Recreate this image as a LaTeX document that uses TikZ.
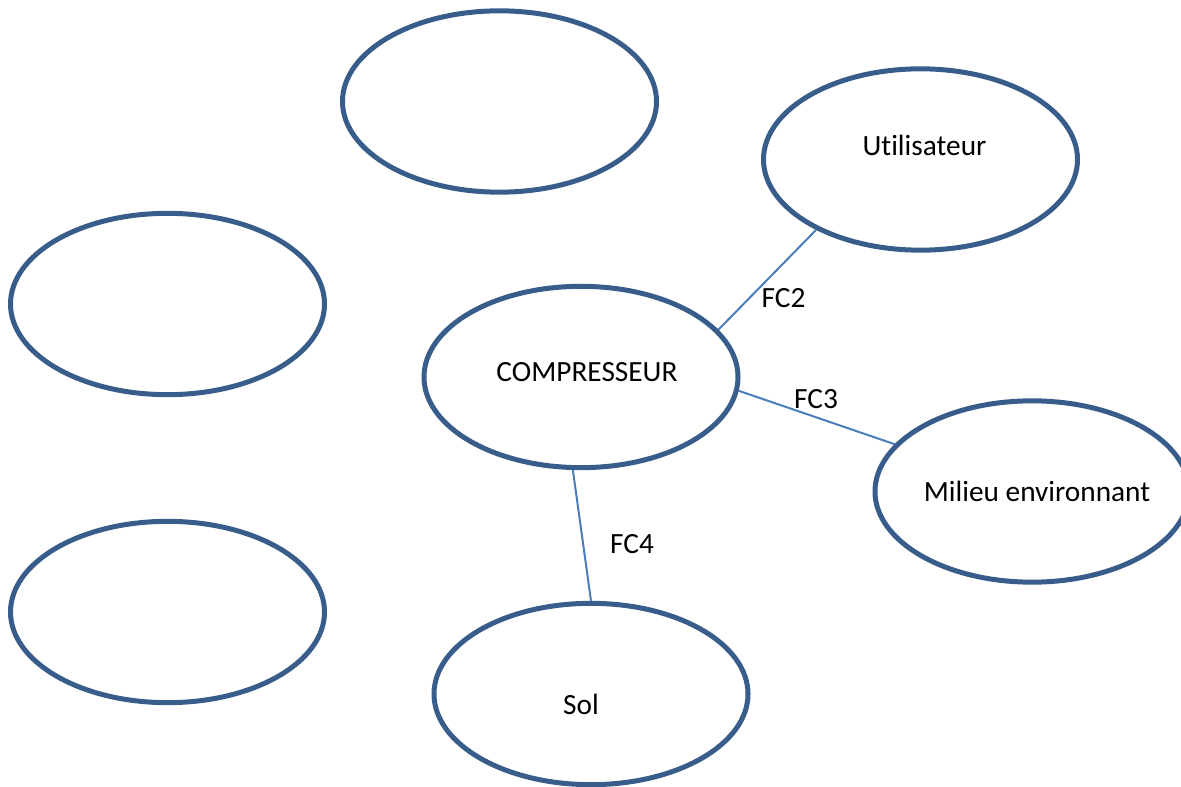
\documentclass[tikz,border=0pt]{standalone}
\usepackage{fontspec}
\setmainfont{Carlito}[Ligatures=NoCommon]
\usepackage{xcolor}
\usetikzlibrary{shapes.geometric}
\definecolor{bordureBleu}{RGB}{56, 93, 138}
\definecolor{lienBleu}{RGB}{74, 126, 187}

\begin{document}
\begin{tikzpicture}[x=0.75pt, y=-0.75pt]
            \tikzstyle{bulle} = [ellipse, draw=bordureBleu, line width=3.75pt, minimum width=235.5pt, minimum height=136pt, inner sep=0pt]
            \tikzstyle{lien} = [lienBleu, line width=1.5pt]
            \tikzstyle{txt} = [font=\fontsize{22}{26}\selectfont, black]
            \useasboundingbox (0,0) rectangle (1181,787);

            % Ellipses vides
            \node[bulle] (vide1) at (499.5,101.5) {};
            \node[bulle] (vide2) at (167.5,304) {};
            \node[bulle] (vide3) at (167.5,612) {};

            % Milieux exterieurs
            \node[bulle, label={[txt, shift={(3pt,10.5pt)}]center:Utilisateur}] (util) at (920.5,159.5) {};
            \node[bulle, label={[txt, shift={(4.5pt,3.5pt)}]center:COMPRESSEUR}] (comp) at (581,377) {};
            \node[bulle, label={[txt, shift={(3.75pt,0pt)}]center:Milieu environnant}] (milieu) at (1032,491.5) {};
            \node[bulle, label={[txt, shift={(-7.5pt,-8pt)}]center:Sol}] (sol) at (591,694) {};

            % Fonctions contraintes
            \draw[lien] (comp.19.6) -- (util.214.4);
            \draw[lien] (comp.-5.5) -- (milieu.161.5);
            \draw[lien] (comp.265.7) -- (sol.90.6);
            \node[txt] (fc2) at (783.5,298) {FC2};
            \node[txt] (fc3) at (816,399) {FC3};
            \node[txt] (fc4) at (632,544) {FC4};
        \end{tikzpicture}
\end{document}
